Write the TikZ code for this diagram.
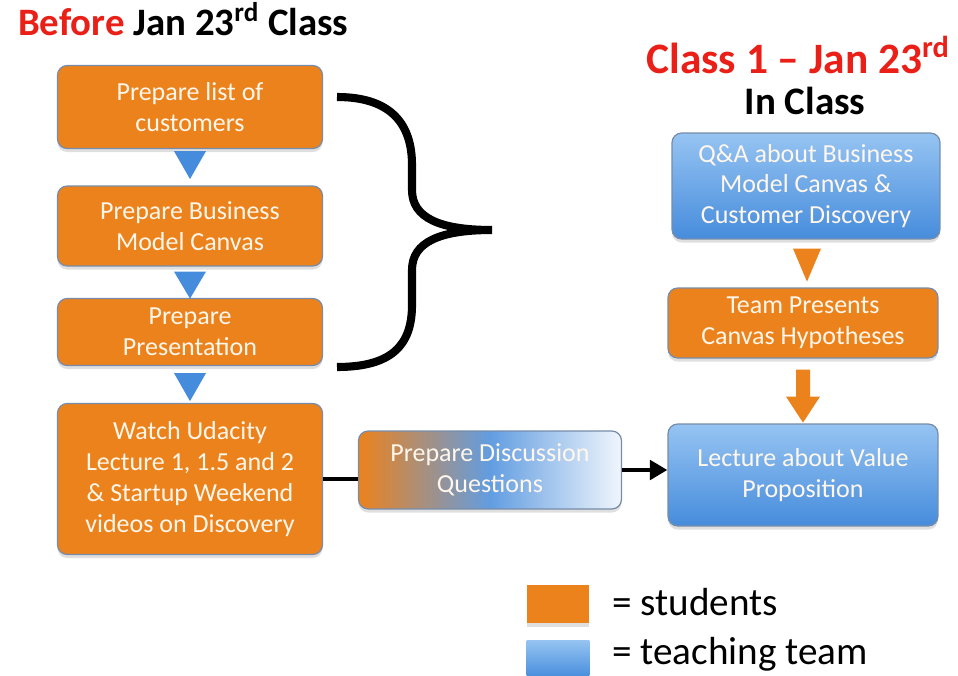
\documentclass[tikz,border=0pt]{standalone}
\usepackage{fontspec}
\setmainfont{Carlito}
\usetikzlibrary{arrows.meta,calc,shadows}
\definecolor{stuorange}{RGB}{236,130,28}
\definecolor{teamblue}{RGB}{70,140,220}
\definecolor{teamlight}{RGB}{150,196,242}
\definecolor{titlered}{RGB}{234,32,24}
\definecolor{boxedge}{RGB}{118,140,170}
\definecolor{boxtext}{RGB}{255,247,236}
\tikzset{
  task/.style={draw=boxedge,line width=0.7pt,rounded corners=5.5pt,text=boxtext,
    align=center,font=\fontsize{14.8}{17.6}\selectfont,inner sep=2pt,
    drop shadow={opacity=0.25,shadow xshift=0pt,shadow yshift=-2pt}},
  student/.style={task,fill=stuorange},
  teacher/.style={task,top color=teamlight,bottom color=teamblue},
  pointer/.style={fill=#1,draw=none},
  link/.style={line width=2.8pt,line cap=butt}
}
\begin{document}
\begin{tikzpicture}[x=0.02cm,y=-0.02cm]
  \useasboundingbox[fill=white] (0,0) rectangle (958,676);
  \node[anchor=base west,font=\fontsize{22.1}{26}\selectfont\bfseries] (before) at (12,35)
    {\textcolor{titlered}{Before} Jan 23\textsuperscript{rd} Class};
  \node[anchor=base east,font=\fontsize{24.7}{29}\selectfont\bfseries,text=titlered] (classone) at (956,73)
    {Class 1 -- Jan 23\textsuperscript{rd}};
  \node[anchor=base,font=\fontsize{22.2}{26}\selectfont\bfseries] (inclass) at (805,114) {In Class};

  \node[student,minimum width=5.3cm,minimum height=1.66cm] (list) at (190,107) {Prepare list of\\customers};
  \node[student,minimum width=5.3cm,minimum height=1.6cm] (canvas) at (190,226) {Prepare Business\\Model Canvas};
  \node[student,minimum width=5.3cm,minimum height=1.34cm] (present) at (190,332) {Prepare\\Presentation};
  \node[student,minimum width=5.3cm,minimum height=3.02cm] (watch) at (190,479)
    {Watch Udacity\\Lecture 1, 1.5 and 2\\\& Startup Weekend\\videos on Discovery};
  \node[task,left color=stuorange,right color=white!92!teamblue,middle color=teamblue!85,
    minimum width=5.26cm,minimum height=1.56cm] (questions) at (490,470) {Prepare Discussion\\Questions};
  \node[teacher,minimum width=5.4cm,minimum height=2.04cm] (lecture) at (803,475) {Lecture about Value\\Proposition};
  \node[teacher,minimum width=5.36cm,minimum height=2.12cm] (qanda) at (806,186)
    {Q\&A about Business\\Model Canvas \&\\Customer Discovery};
  \node[student,minimum width=5.4cm,minimum height=1.4cm] (team) at (803,323) {Team Presents\\Canvas Hypotheses};

  \fill[pointer=teamblue] ($(list.south)+(-16,2)$) -- ($(list.south)+(16,2)$) -- ($(list.south)+(0,30)$) -- cycle;
  \fill[pointer=teamblue] ($(canvas.south)+(-16,5)$) -- ($(canvas.south)+(16,5)$) -- ($(canvas.south)+(0,32)$) -- cycle;
  \fill[pointer=teamblue] ($(present.south)+(-16,7)$) -- ($(present.south)+(16,7)$) -- ($(present.south)+(0,35)$) -- cycle;
  \fill[pointer=stuorange] ($(qanda.south)+(-13,9)$) -- ($(qanda.south)+(15,9)$) -- ($(qanda.south)+(1,42)$) -- cycle;
  \fill[pointer=stuorange] ($(team.south)+(-7,11)$) -- ($(team.south)+(7,11)$) -- ($(team.south)+(7,38)$)
    -- ($(team.south)+(17,38)$) -- ($(team.south)+(0,64)$) -- ($(team.south)+(-17,38)$)
    -- ($(team.south)+(-7,38)$) -- cycle;

  \draw[link] (watch.east) -- (watch.east -| questions.west);
  \draw[link,-{Triangle[length=10pt,width=11pt]}] (questions.east) -- (questions.east -| lecture.west);

  \coordinate (bracetop) at (337,97);
  \coordinate (bracebot) at (337,367);
  \coordinate (bracetip) at (492,230);
  \draw[line width=4.6pt] (bracetop) .. controls (392,97) and (412,125) .. (412,165) -- (412,190)
    .. controls (412,218) and (440,230) .. (bracetip)
    .. controls (440,230) and (412,242) .. (412,270) -- (412,305)
    .. controls (412,345) and (392,367) .. (bracebot);

  \node[fill=stuorange,minimum width=1.26cm,minimum height=0.76cm,inner sep=0pt,
    drop shadow={opacity=0.25,shadow xshift=0pt,shadow yshift=-2pt}] (keystudent) at (558,604) {};
  \node[top color=teamlight,bottom color=teamblue,minimum width=1.26cm,minimum height=0.76cm,inner sep=0pt] (keyteam) at (558,659) {};
  \node[anchor=base west,font=\fontsize{22.3}{26}\selectfont] (studentlabel) at (606,615) {= students};
  \node[anchor=base west,font=\fontsize{22.3}{26}\selectfont] (teamlabel) at (606,664) {= teaching team};
\end{tikzpicture}
\end{document}
